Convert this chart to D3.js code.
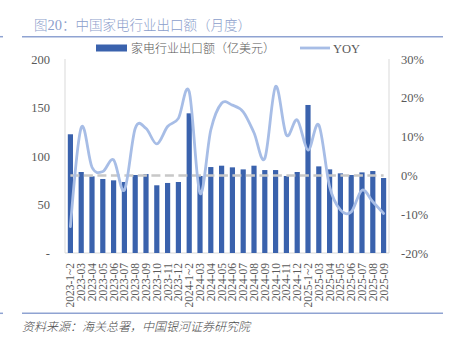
<!DOCTYPE html>
<html>
<head>
<meta charset="utf-8">
<script src="https://cdn.jsdelivr.net/npm/d3@7/dist/d3.min.js"></script>
<style>
  html, body { margin: 0; padding: 0; background: #ffffff; }
  svg { display: block; }
</style>
</head>
<body>
<svg id="chart" width="452" height="340"></svg>
<script>
// Monthly categories (Jan & Feb are combined each year)
const categories = [
  "2023-1~2","2023-03","2023-04","2023-05","2023-06","2023-07","2023-08","2023-09","2023-10","2023-11","2023-12",
  "2024-1~2","2024-03","2024-04","2024-05","2024-06","2024-07","2024-08","2024-09","2024-10","2024-11","2024-12",
  "2025-1~2","2025-03","2025-04","2025-05","2025-06","2025-07","2025-08","2025-09"
];
// Household appliance exports, USD 100m
const exportValues = [
  122.4, 83.5, 79.0, 76.3, 74.9, 73.2, 80.4, 81.4, 69.8, 72.2, 73.2,
  144.0, 79.4, 88.6, 90.0, 88.3, 86.2, 90.0, 85.5, 85.5, 79.4,
  83.5, 152.6, 89.3, 86.2, 82.1, 80.4, 83.1, 84.5, 77.3
];
// Year-over-year growth, %
const yoyValues = [
  -13.2, 12.3, 2.1, 1.0, 4.0, -3.8, 12.1, 12.1, 8.1, 12.6, 14.7,
  21.6, -4.6, 11.7, 18.6, 18.1, 16.4, 11.0, 4.4, 22.9, 10.4,
  14.3, 6.5, 13.0, -2.9, -8.9, -9.4, -3.8, -6.8, -9.8
];
const leftTicks = [0, 50, 100, 150, 200];
const rightTicks = [-20, -10, 0, 10, 20, 30];

const svg = d3.select("#chart");
const numFont = "'Liberation Serif', 'Noto Sans CJK SC', serif";
const cjkFont = "'Noto Sans CJK SC', sans-serif";
const axisGray = "#595959";

const plot = { left: 65, right: 389, top: 59, bottom: 253 };

const x = d3.scaleBand()
  .domain(categories)
  .range([plot.left, plot.right])
  .paddingInner(0.52)
  .paddingOuter(0.26);

const yLeft = d3.scaleLinear().domain([0, 200]).range([plot.bottom, plot.top]);
const yRight = d3.scaleLinear().domain([-20, 30]).range([plot.bottom, plot.top]);

// Title and rules
const title = svg.append("text")
  .attr("x", 34).attr("y", 30)
  .attr("font-family", cjkFont)
  .attr("font-size", 13.5)
  .attr("font-weight", 300)
  .attr("fill", "#8c9ecb");
title.append("tspan").text("图");
title.append("tspan").attr("font-family", numFont).attr("font-size", 14.5).text("20");
title.append("tspan").text("：中国家电行业出口额（月度）");

const ruleColor = "#8fa3d2";
[[0, 3], [22, 443]].forEach(([a, b]) => {
  svg.append("line").attr("x1", a).attr("x2", b).attr("y1", 36.7).attr("y2", 36.7)
    .attr("stroke", ruleColor).attr("stroke-width", 1.5);
  svg.append("line").attr("x1", a).attr("x2", b).attr("y1", 313.3).attr("y2", 313.3)
    .attr("stroke", ruleColor).attr("stroke-width", 1.5);
});

// Axis frame lines
svg.append("line").attr("x1", plot.left).attr("x2", plot.left)
  .attr("y1", plot.top).attr("y2", plot.bottom).attr("stroke", "#d9d9d9").attr("stroke-width", 1);
svg.append("line").attr("x1", plot.right).attr("x2", plot.right)
  .attr("y1", plot.top).attr("y2", plot.bottom).attr("stroke", "#d9d9d9").attr("stroke-width", 1);
svg.append("line").attr("x1", plot.left).attr("x2", plot.right)
  .attr("y1", plot.bottom).attr("y2", plot.bottom).attr("stroke", "#d9d9d9").attr("stroke-width", 1);

// Left axis (values)
const leftAxis = d3.axisLeft(yLeft).tickValues(leftTicks)
  .tickSize(0).tickPadding(15)
  .tickFormat(d => d === 0 ? "-" : d3.format("d")(d));
const gl = svg.append("g").attr("transform", `translate(${plot.left},0)`).call(leftAxis);
gl.select(".domain").remove();
gl.selectAll("text").attr("font-family", numFont).attr("font-size", 12.5).attr("fill", axisGray);

// Right axis (YoY %)
const rightAxis = d3.axisRight(yRight).tickValues(rightTicks)
  .tickSize(0).tickPadding(12)
  .tickFormat(d => d + "%");
const gr = svg.append("g").attr("transform", `translate(${plot.right},0)`).call(rightAxis);
gr.select(".domain").remove();
gr.selectAll("text").attr("font-family", numFont).attr("font-size", 12.5).attr("fill", axisGray);

// Bars
svg.append("g").selectAll("rect")
  .data(exportValues)
  .join("rect")
  .attr("x", (d, i) => x(categories[i]))
  .attr("width", x.bandwidth())
  .attr("y", d => yLeft(d))
  .attr("height", d => yLeft(0) - yLeft(d))
  .attr("fill", "#3a62ad");

// Zero reference line on the YoY scale
const cx = (i) => x(categories[i]) + x.bandwidth() / 2;
svg.append("line")
  .attr("x1", cx(0)).attr("x2", cx(categories.length - 1))
  .attr("y1", yRight(0)).attr("y2", yRight(0))
  .attr("stroke", "#c8c8c8").attr("stroke-width", 2.5)
  .attr("stroke-dasharray", "9,4.5");

// YoY smoothed line
const line = d3.line()
  .x((d, i) => cx(i))
  .y(d => yRight(d))
  .curve(d3.curveCardinal.tension(0));
svg.append("path")
  .datum(yoyValues)
  .attr("d", line)
  .attr("fill", "none")
  .attr("stroke", "#a7bde6")
  .attr("stroke-width", 2.8)
  .attr("stroke-linecap", "round");

// X labels, rotated
const gx = svg.append("g");
categories.forEach((c, i) => {
  gx.append("text")
    .attr("transform", `translate(${cx(i) + 4},263) rotate(-90)`)
    .attr("text-anchor", "end")
    .attr("font-family", numFont)
    .attr("font-size", 11.5)
    .attr("fill", axisGray)
    .text(c);
});

// Legend
svg.append("rect").attr("x", 96).attr("y", 44.5).attr("width", 31).attr("height", 7).attr("fill", "#3a62ad");
svg.append("text").attr("x", 131).attr("y", 52.5)
  .attr("font-family", cjkFont).attr("font-size", 12).attr("font-weight", 300).attr("fill", axisGray)
  .text("家电行业出口额（亿美元）");
svg.append("line").attr("x1", 300).attr("x2", 330).attr("y1", 48).attr("y2", 48)
  .attr("stroke", "#a7bde6").attr("stroke-width", 2.8);
svg.append("text").attr("x", 333).attr("y", 52.5)
  .attr("font-family", numFont).attr("font-size", 12.5).attr("fill", axisGray)
  .text("YOY");

// Source note
svg.append("text").attr("x", 22).attr("y", 331)
  .attr("font-family", cjkFont).attr("font-size", 12).attr("font-weight", 300).attr("font-style", "italic")
  .attr("fill", "#4a4a4a")
  .text("资料来源：海关总署，中国银河证券研究院");
</script>
</body>
</html>
